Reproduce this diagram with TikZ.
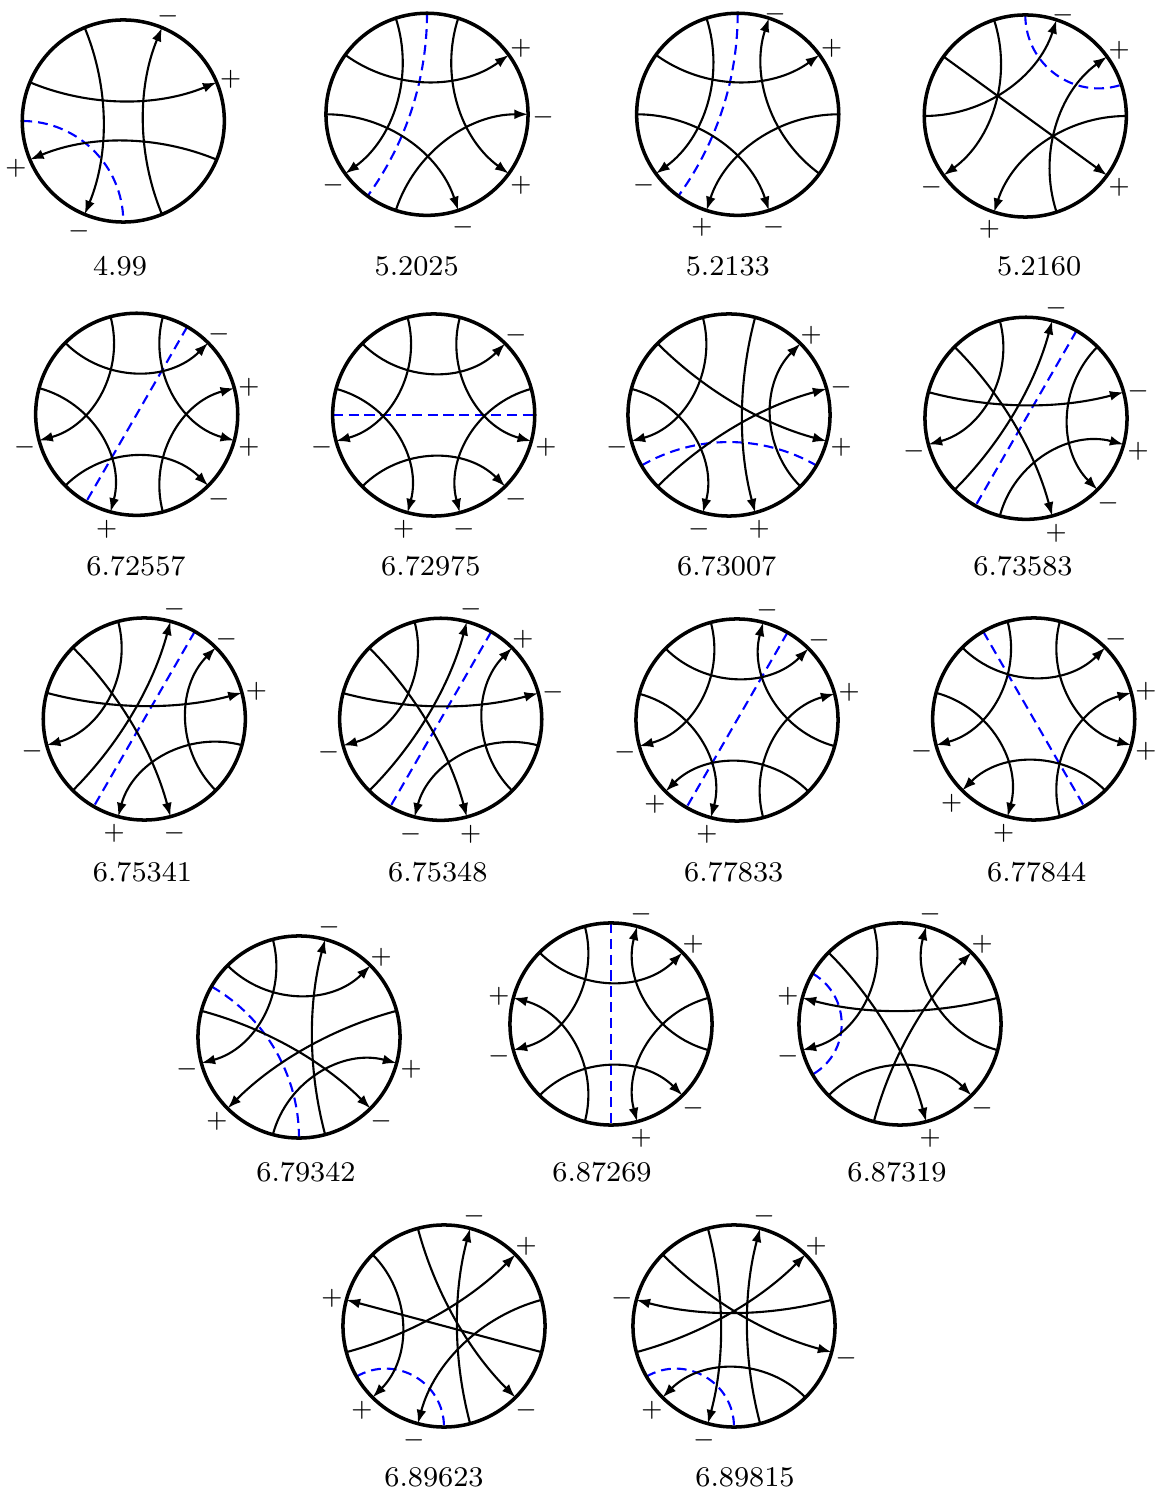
\documentclass[tikz,border=0pt]{standalone}
\usetikzlibrary{arrows.meta}
\newcommand\RR{101}
\newcounter{sgc}
\tikzset{
 rim/.style={line width=1pt},
 chord/.style={line width=0.6pt},
 arr/.style={chord,-{Latex[length=3.9pt,width=2.8pt]}},
 bl/.style={line width=0.6pt,blue,dash pattern=on 2.8pt off 1.7pt},
 sgn/.style={inner sep=0pt,text height=0.5em,text depth=0pt,font=\fontsize{7}{8}\selectfont},
 val/.style={inner sep=0pt,font=\fontsize{8.1}{10}\selectfont},
}
% geodesic from angle #2 to angle #3
\newcommand\geo[3][arr]{%
  \pgfmathsetmacro\gs{abs(sin((#3-(#2))/2))}%
  \pgfmathsetmacro\gr{\RR*(1-4/3*\gs/(1+\gs))}%
  \draw[#1] (#2:\RR) .. controls (#2:\gr) and (#3:\gr) .. (#3:\RR);}
\newcommand\sg[3][1.15]{\stepcounter{sgc}\node[sgn] (sg\arabic{sgc}) at (#2:{#1*\RR}) {$#3$};}
\newcommand\ch[4][1.15]{\geo{#2}{#3}\sg[#1]{#3}{#4}}
\newcommand\blu[2]{\geo[bl]{#1}{#2}}
\newcommand\rim[1]{\draw[rim] (0,0) circle[radius=1.01cm]; \coordinate (c#1) at (0,0);}
\begin{document}
\begin{tikzpicture}[x=0.01cm,y=0.01cm]
\useasboundingbox (0,0) rectangle (1159,1493);
% ---------- row 1
\begin{scope}[shift={(123.3,1372)}]
 \blu{180}{270}
 \ch{112.5}{247.5}{-}\ch{-67.5}{67.5}{-}\ch{157.5}{22.5}{+}\ch{-22.5}{202.5}{+}
 \rim{1}
\end{scope}
\node[val] (v1) at (120,1226.5) {4.99};
\begin{scope}[shift={(427,1378.7)}]
 \blu{90}{234}
 \ch{108}{216}{-}\ch{72}{324}{+}\ch{144}{36}{+}\ch{180}{288}{-}\ch{252}{360}{-}
 \rim{2}
\end{scope}
\node[val] (v2) at (416.7,1226.5) {5.2025};
\begin{scope}[shift={(737.7,1378.7)}]
 \blu{90}{234}
 \geo{324}{72}\sg[1.08]{70}{-}
 \ch{108}{216}{-}\ch{144}{36}{+}\ch{180}{288}{-}\ch{0}{252}{+}
 \rim{3}
\end{scope}
\node[val] (v3) at (727.8,1226.5) {5.2133};
\begin{scope}[shift={(1025.3,1377)}]
 \blu{90}{18}
 \geo{180}{72}\sg[1.09]{70}{-}
 \ch{108}{216}{-}\ch{144}{324}{+}\ch{288}{36}{+}\ch{0}{252}{+}
 \rim{4}
\end{scope}
\node[val] (v4) at (1039.2,1226.5) {5.2160};
% ---------- row 2
\begin{scope}[shift={(136.7,1078.7)}]
 \blu{60}{240}
 \ch{105}{195}{-}\ch{75}{345}{+}\ch{135}{45}{-}\ch{165}{255}{+}\ch{285}{15}{+}\ch{225}{315}{-}
 \rim{5}
\end{scope}
\node[val] (v5) at (136,926.5) {6.72557};
\begin{scope}[shift={(433.7,1078)}]
 \blu{180}{0}
 \ch{105}{195}{-}\ch{75}{345}{+}\ch{135}{45}{-}\ch{165}{255}{+}\ch{15}{285}{-}\ch{225}{315}{-}
 \rim{6}
\end{scope}
\node[val] (v6) at (430.8,926.5) {6.72975};
\begin{scope}[shift={(729,1078)}]
 \blu{210}{330}
 \ch{105}{195}{-}\ch{75}{285}{+}\ch{135}{345}{+}\ch{165}{255}{-}\ch{225}{15}{-}\ch{315}{45}{+}
 \rim{7}
\end{scope}
\node[val] (v7) at (726.7,926.5) {6.73007};
\begin{scope}[shift={(1026,1074.7)}]
 \blu{60}{240}
 \ch{105}{195}{-}\ch{135}{285}{+}\ch{165}{15}{-}\ch{225}{75}{-}\ch{45}{315}{-}\ch{255}{345}{+}
 \rim{8}
\end{scope}
\node[val] (v8) at (1023,926.5) {6.73583};
% ---------- row 3
\begin{scope}[shift={(144.3,774)}]
 \blu{60}{240}
 \ch{105}{195}{-}\ch{135}{285}{-}\ch{165}{15}{+}\ch{225}{75}{-}\ch{315}{45}{-}\ch{345}{255}{+}
 \rim{9}
\end{scope}
\node[val] (v9) at (142.5,621) {6.75341};
\begin{scope}[shift={(440.7,773.7)}]
 \blu{60}{240}
 \ch{105}{195}{-}\ch{135}{285}{+}\ch{165}{15}{-}\ch{225}{75}{-}\ch{315}{45}{+}\ch{345}{255}{-}
 \rim{10}
\end{scope}
\node[val] (v10) at (437.8,621) {6.75348};
\begin{scope}[shift={(737,773)}]
 \blu{60}{240}
 \ch{105}{195}{-}\ch{345}{75}{-}\ch{135}{45}{-}\ch{165}{255}{+}\ch{285}{15}{+}\ch{315}{225}{+}
 \rim{11}
\end{scope}
\node[val] (v11) at (733.7,621) {6.77833};
\begin{scope}[shift={(1033.7,774)}]
 \blu{120}{300}
 \ch{105}{195}{-}\ch{75}{345}{+}\ch{135}{45}{-}\ch{165}{255}{+}\ch{285}{15}{+}\ch{315}{225}{+}
 \rim{12}
\end{scope}
\node[val] (v12) at (1036.7,621) {6.77844};
% ---------- row 4
\begin{scope}[shift={(299,456)}]
 \blu{150}{270}
 \ch{105}{195}{-}\ch{135}{45}{+}\ch{285}{75}{-}\ch{165}{315}{-}\ch{15}{225}{+}\ch{255}{345}{+}
 \rim{13}
\end{scope}
\node[val] (v13) at (306,321) {6.79342};
\begin{scope}[shift={(611,469)}]
 \blu{90}{270}
 \ch{105}{195}{-}\ch{345}{75}{-}\ch{135}{45}{+}\ch{255}{165}{+}\ch{15}{285}{+}\ch{225}{315}{-}
 \rim{14}
\end{scope}
\node[val] (v14) at (602,321) {6.87269};
\begin{scope}[shift={(900,469)}]
 \blu{150}{210}
 \ch{105}{195}{-}\ch{345}{75}{-}\ch{15}{165}{+}\ch{135}{285}{+}\ch{255}{45}{+}\ch{225}{315}{-}
 \rim{15}
\end{scope}
\node[val] (v15) at (897,321) {6.87319};
% ---------- row 5
\begin{scope}[shift={(444,167)}]
 \blu{210}{270}
 \ch{345}{165}{+}\ch{135}{225}{+}\ch{105}{315}{-}\ch{285}{75}{-}\ch{15}{255}{-}\ch{195}{45}{+}
 \rim{16}
\end{scope}
\node[val] (v16) at (434,16) {6.89623};
\begin{scope}[shift={(734,167)}]
 \blu{210}{270}
 \ch{15}{165}{-}\ch{135}{345}{-}\ch{195}{45}{+}\ch{285}{75}{-}\ch{315}{225}{+}\ch{105}{255}{-}
 \rim{17}
\end{scope}
\node[val] (v17) at (745,16) {6.89815};
\end{tikzpicture}
\end{document}
